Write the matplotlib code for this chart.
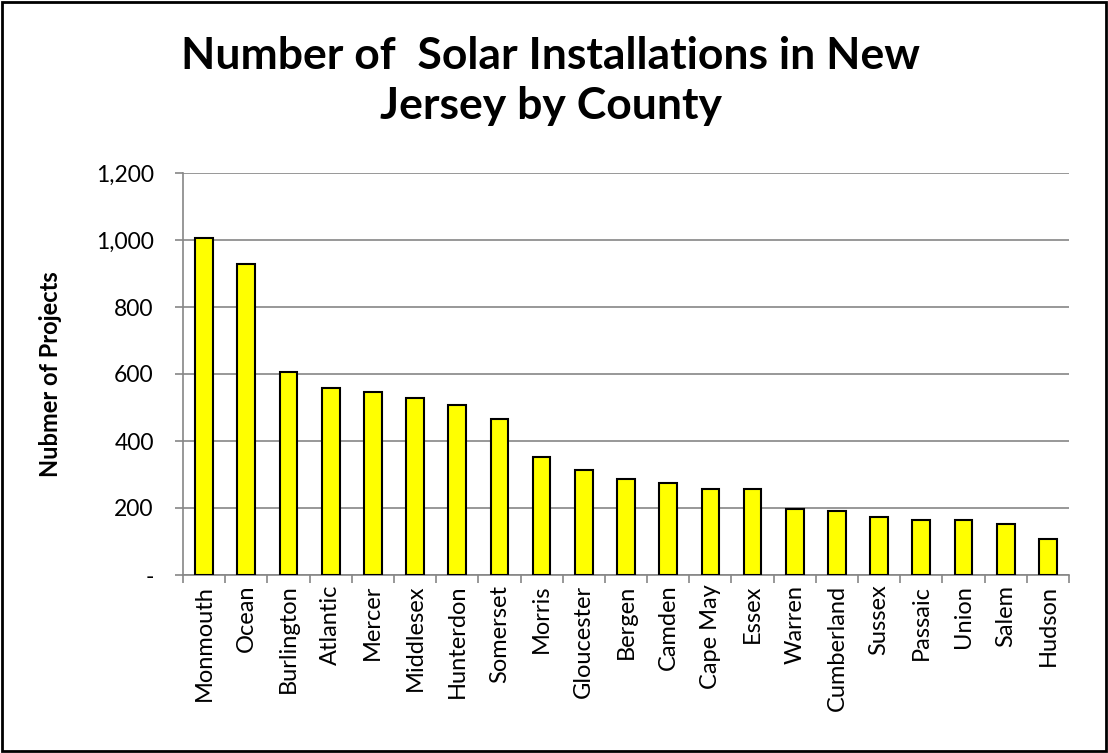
import matplotlib
matplotlib.use("Agg")
import matplotlib.pyplot as plt
from matplotlib.patches import Rectangle
from matplotlib.ticker import FuncFormatter, MultipleLocator

# Solar installations per county, sorted high to low
counties = ["Monmouth", "Ocean", "Burlington", "Atlantic", "Mercer", "Middlesex",
            "Hunterdon", "Somerset", "Morris", "Gloucester", "Bergen", "Camden",
            "Cape May", "Essex", "Warren", "Cumberland", "Sussex", "Passaic",
            "Union", "Salem", "Hudson"]
projects = [1005, 927, 605, 559, 547, 527, 508, 467, 351, 312, 287, 274,
            258, 257, 198, 192, 174, 165, 164, 153, 107]

plt.rcParams['font.family'] = ['Lato', 'DejaVu Sans']

grid_gray = "#868686"

fig = plt.figure(figsize=(11.08, 7.53), dpi=100)
ax = fig.add_axes([183 / 1108, 1 - 575 / 753, (1069 - 183) / 1108, (575 - 173) / 753])

x = range(len(counties))
ax.bar(x, projects, width=0.42, color="#FFFF00", edgecolor="black", linewidth=1.5, zorder=3)

ax.set_xlim(-0.5, len(counties) - 0.5)
ax.set_ylim(0, 1200)
ax.yaxis.set_major_locator(MultipleLocator(200))
ax.yaxis.set_major_formatter(FuncFormatter(lambda v, p: "-" if v == 0 else f"{int(v):,}"))
ax.grid(axis="y", color=grid_gray, linewidth=1.2, zorder=0)

# category labels under the bars, tick marks between categories
ax.set_xticks(list(x))
ax.set_xticklabels(counties, rotation=90, fontsize=17)
ax.set_xticks([i - 0.5 for i in range(len(counties) + 1)], minor=True)
ax.tick_params(axis="x", which="major", length=0, pad=7)
ax.tick_params(axis="x", which="minor", length=6, color=grid_gray, width=1.2)
ax.tick_params(axis="y", length=6, color=grid_gray, width=1.2, labelsize=16.5, pad=15)

for side in ["top", "right"]:
    ax.spines[side].set_visible(False)
for side in ["left", "bottom"]:
    ax.spines[side].set_color(grid_gray)
    ax.spines[side].set_linewidth(1.2)

ax.set_ylabel("Nubmer of Projects", fontsize=17, fontweight="bold", labelpad=24)

fig.text(0.497, 0.952, "Number of  Solar Installations in New\nJersey by County",
         ha="center", va="top", fontsize=32, fontweight="bold", linespacing=1.3)

# chart border
fig.patches.append(Rectangle((0.002, 0.002), 0.996, 0.996, transform=fig.transFigure,
                             fill=False, edgecolor="black", linewidth=2))

fig.savefig("out.png", dpi=100)
